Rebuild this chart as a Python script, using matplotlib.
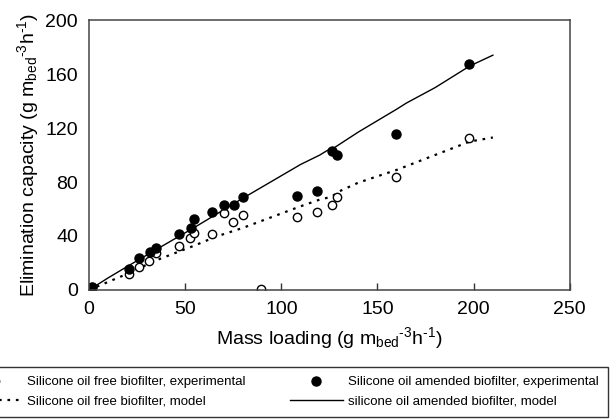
import matplotlib
matplotlib.use("Agg")
import matplotlib.pyplot as plt
import numpy as np

plt.rcParams['font.family'] = ['Liberation Sans', 'DejaVu Sans']
plt.rcParams['mathtext.fontset'] = 'custom'
plt.rcParams['mathtext.rm'] = 'Liberation Sans'
plt.rcParams['mathtext.default'] = 'regular'

# silicone oil amended biofilter, experimental (filled)
amended_x = [1.7, 20.8, 26, 31.6, 34.7, 46.9, 53, 54.7, 64.2, 70, 75.2, 79.9,
             108, 118.4, 126.4, 129, 159.7, 197.6]
amended_y = [2, 15.3, 23.5, 28.4, 30.9, 41.2, 45.9, 52.6, 57.5, 63.2, 63.2, 68.9,
             69.6, 73.6, 103.2, 99.8, 115.3, 167.4]

# silicone oil free biofilter, experimental (open)
free_x = [1.7, 20.8, 26, 31.3, 34.7, 46.9, 52.6, 54.7, 63.9, 70, 75, 79.9,
          89.4, 108, 118.4, 126.4, 129, 159.7, 197.6]
free_y = [2, 11.6, 16.8, 21.5, 27.2, 32.8, 38.5, 42.5, 41.5, 57.3, 50.6, 55.6,
          0.7, 54.3, 57.5, 63.2, 68.7, 83.9, 112.3]

# model curves
amended_model_x = [0, 10, 20, 35, 55, 80, 110, 120, 124, 126, 140, 160, 165, 180, 198, 210]
amended_model_y = [0, 9, 17.5, 30, 46.5, 68, 93, 100, 103.5, 104, 117, 134, 138.5, 150, 166, 174]
free_model_x = [0, 20, 35, 55, 66, 80, 110, 120, 126, 130, 140, 160, 198, 210]
free_model_y = [0, 12, 22, 33, 39.5, 46, 62, 67, 69, 73, 79.5, 89, 110, 113]

fig = plt.figure(figsize=(6.14, 4.19), dpi=100)
ax = fig.add_axes([0.145, 0.308, 0.783, 0.644])

l_free_model, = ax.plot(free_model_x, free_model_y, color='black', lw=1.6,
                        linestyle=(0, (1.2, 2.6)))
l_am_model, = ax.plot(amended_model_x, amended_model_y, color='black', lw=1.0)
l_free, = ax.plot(free_x, free_y, 'o', ms=6, mfc='white', mec='black', mew=1.0,
                  linestyle='none')
l_am, = ax.plot(amended_x, amended_y, 'o', ms=6.5, mfc='black', mec='black',
                linestyle='none')

ax.set_xlim(0, 250)
ax.set_ylim(0, 200)
ax.set_xticks([0, 50, 100, 150, 200, 250])
ax.set_yticks([0, 40, 80, 120, 160, 200])
ax.tick_params(axis='x', direction='in', length=5, width=1, pad=8,
               labelsize=14, color='#333333')
ax.tick_params(axis='y', length=0, pad=8, labelsize=14)
for s in ax.spines.values():
    s.set_color('#444444')
    s.set_linewidth(1.1)

unit = r'(g m$_{bed}$$^{\text{-}3}$h$^{\text{-}1}$)'
ax.set_xlabel('Mass loading ' + unit, fontsize=14, labelpad=5)
ax.set_ylabel('Elimination capacity ' + unit, fontsize=14, labelpad=3)

leg = fig.legend([l_free, l_free_model, l_am, l_am_model],
                 ['Silicone oil free biofilter, experimental',
                  'Silicone oil free biofilter, model',
                  'Silicone oil amended biofilter, experimental',
                  'silicone oil amended biofilter, model'],
                 ncol=2, loc='upper right', bbox_to_anchor=(608 / 614, 1 - 367 / 419),
                 fontsize=9.5, handlelength=4.0, handletextpad=0.4, columnspacing=3.4,
                 frameon=True, fancybox=False, edgecolor='black', borderpad=0.7,
                 labelspacing=0.5, borderaxespad=0)
leg.get_frame().set_linewidth(1.0)

fig.savefig('out.png', dpi=100)
